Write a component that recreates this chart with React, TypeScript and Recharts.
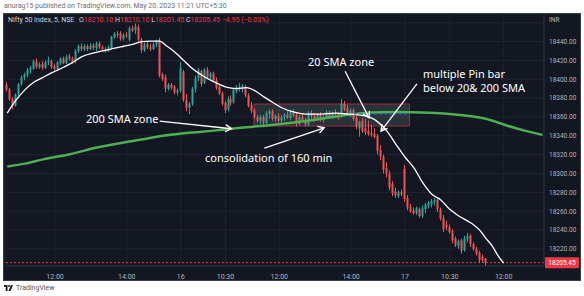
import React from 'react';
import {
  ComposedChart,
  Bar,
  Line,
  XAxis,
  YAxis,
  CartesianGrid,
  ReferenceLine,
  ReferenceArea,
} from 'recharts';

// 5 min candles, Nifty 50 (index 0 = day 1 ~10:40, 160 = day 3 ~11:30)
const opens = [
  18394, 18389, 18379, 18372, 18384, 18395, 18402, 18404, 18410, 18411,
  18419, 18413, 18416, 18412, 18418, 18419, 18414, 18411, 18417, 18422,
  18417, 18424, 18422, 18419, 18430, 18435, 18432, 18435, 18432, 18436,
  18433, 18438, 18434, 18432, 18430, 18433, 18445, 18448, 18449, 18443,
  18447, 18442, 18454, 18452, 18455, 18442, 18431, 18437, 18434, 18432,
  18437, 18441, 18405, 18402, 18390, 18394, 18392, 18386, 18388, 18408,
  18378, 18370, 18374, 18390, 18401, 18409, 18396, 18410, 18402, 18406,
  18399, 18392, 18385, 18375, 18368, 18379, 18376, 18388, 18392, 18390,
  18392, 18383, 18373, 18367, 18360, 18356, 18360, 18354, 18363, 18366,
  18358, 18361, 18356, 18360, 18362, 18359, 18365, 18362, 18353, 18360,
  18357, 18352, 18364, 18361, 18357, 18362, 18357, 18360, 18365, 18360,
  18364, 18363, 18360, 18374, 18369, 18362, 18367, 18359, 18348, 18356,
  18348, 18345, 18343, 18342, 18340, 18325, 18318, 18306, 18300, 18289,
  18281, 18276, 18280, 18305, 18274, 18265, 18261, 18258, 18262, 18255,
  18262, 18266, 18267, 18270, 18272, 18262, 18253, 18246, 18243, 18239,
  18231, 18223, 18229, 18219, 18230, 18234, 18225, 18220, 18216, 18212,
  18210.1,
];
const highs = [
  18397, 18391, 18381, 18385, 18396, 18404, 18407, 18412, 18414, 18421,
  18422, 18418, 18419, 18420, 18424, 18421, 18416, 18419, 18423, 18424,
  18426, 18427, 18424, 18432, 18437, 18438, 18437, 18437, 18438, 18438,
  18440, 18440, 18436, 18434, 18436, 18446, 18450, 18451, 18451, 18449,
  18450, 18456, 18457, 18459, 18458, 18444, 18439, 18440, 18438, 18439,
  18442, 18444, 18407, 18405, 18396, 18396, 18394, 18390, 18418, 18410,
  18384, 18376, 18392, 18404, 18412, 18410, 18412, 18413, 18408, 18408,
  18402, 18394, 18387, 18377, 18382, 18383, 18391, 18394, 18396, 18395,
  18394, 18385, 18376, 18369, 18362, 18362, 18362, 18366, 18368, 18368,
  18363, 18364, 18362, 18364, 18366, 18367, 18368, 18364, 18362, 18363,
  18359, 18366, 18367, 18364, 18364, 18365, 18362, 18367, 18367, 18366,
  18368, 18365, 18379, 18377, 18373, 18369, 18369, 18362, 18356, 18359,
  18358, 18356, 18352, 18348, 18342, 18330, 18320, 18312, 18303, 18292,
  18285, 18282, 18283, 18309, 18277, 18268, 18264, 18265, 18264, 18266,
  18269, 18271, 18273, 18274, 18274, 18264, 18256, 18250, 18246, 18241,
  18233, 18230, 18231, 18234, 18237, 18236, 18227, 18222, 18218, 18214,
  18210.1,
];
const lows = [
  18387, 18377, 18368, 18371, 18382, 18393, 18399, 18402, 18406, 18410,
  18411, 18411, 18410, 18411, 18415, 18411, 18409, 18410, 18415, 18416,
  18416, 18420, 18416, 18417, 18428, 18430, 18430, 18430, 18431, 18431,
  18430, 18432, 18430, 18428, 18429, 18432, 18443, 18444, 18441, 18441,
  18444, 18440, 18450, 18448, 18440, 18428, 18429, 18432, 18430, 18431,
  18434, 18402, 18398, 18386, 18388, 18389, 18384, 18383, 18386, 18376,
  18366, 18363, 18372, 18386, 18398, 18392, 18395, 18400, 18400, 18397,
  18389, 18383, 18372, 18364, 18366, 18372, 18374, 18385, 18387, 18386,
  18381, 18370, 18364, 18358, 18354, 18353, 18349, 18352, 18358, 18356,
  18355, 18354, 18354, 18356, 18358, 18357, 18360, 18350, 18351, 18355,
  18350, 18350, 18358, 18355, 18356, 18355, 18354, 18358, 18358, 18358,
  18361, 18357, 18359, 18366, 18362, 18360, 18356, 18347, 18339, 18343,
  18341, 18340, 18339, 18337, 18320, 18314, 18300, 18296, 18282, 18276,
  18274, 18274, 18276, 18270, 18261, 18258, 18256, 18256, 18253, 18253,
  18258, 18263, 18264, 18266, 18259, 18250, 18238, 18240, 18236, 18226,
  18222, 18220, 18215, 18217, 18227, 18222, 18218, 18213, 18205, 18205,
  18201.45,
];
const closes = [
  18389, 18379, 18372, 18384, 18395, 18402, 18405, 18410, 18412, 18419,
  18413, 18416, 18412, 18418, 18420, 18413, 18411, 18418, 18422, 18417,
  18424, 18422, 18418, 18430, 18435, 18432, 18435, 18432, 18436, 18433,
  18438, 18434, 18432, 18430, 18434, 18445, 18448, 18447, 18443, 18447,
  18446, 18454, 18452, 18456, 18442, 18431, 18437, 18434, 18432, 18437,
  18440, 18404, 18400, 18390, 18394, 18391, 18386, 18388, 18412, 18378,
  18370, 18374, 18390, 18401, 18410, 18395, 18410, 18402, 18406, 18399,
  18391, 18385, 18374, 18367, 18379, 18375, 18389, 18392, 18390, 18393,
  18383, 18372, 18366, 18360, 18356, 18360, 18354, 18364, 18366, 18358,
  18361, 18356, 18360, 18362, 18359, 18365, 18362, 18353, 18360, 18357,
  18352, 18364, 18361, 18357, 18362, 18357, 18360, 18365, 18360, 18364,
  18363, 18359, 18374, 18368, 18364, 18367, 18358, 18350, 18355, 18345,
  18344, 18342, 18341, 18339, 18324, 18318, 18304, 18300, 18285, 18279,
  18277, 18280, 18278, 18273, 18264, 18260, 18258, 18263, 18255, 18263,
  18267, 18269, 18271, 18272, 18262, 18252, 18241, 18243, 18238, 18229,
  18224, 18228, 18218, 18231, 18234, 18225, 18220, 18215, 18208, 18208,
  18205.45,
];

// moving averages at a few bar positions
const sma20Idx = [0, 3, 6, 9, 12, 15, 19, 22, 25, 29, 32, 36, 39, 42, 45, 48, 51, 53, 56, 59, 62, 65, 68, 71, 74, 77, 80, 83, 86, 89, 92, 96, 100, 105, 110, 114, 118, 121, 124, 127, 130, 133, 136, 139, 142, 145, 148, 151, 154, 156, 158, 160, 162, 164, 166];
const sma20Val = [18364, 18378, 18389, 18397, 18402, 18407, 18413, 18418, 18424, 18428, 18430, 18433, 18435, 18437, 18440, 18440.5, 18440.5, 18436, 18429, 18420, 18411, 18404.5, 18399, 18394.5, 18391, 18390, 18391, 18387.5, 18381, 18375, 18369.5, 18365, 18363, 18363, 18364, 18363, 18362, 18360, 18354.5, 18345, 18331, 18317.5, 18306, 18290, 18278, 18272, 18262, 18255, 18249.5, 18245.5, 18240, 18231.5, 18224, 18213.5, 18205];
const sma200Idx = [0, 6, 12, 21, 30, 39, 45, 51, 60, 69, 78, 87, 96, 105, 111, 116, 122, 130, 138, 146, 153, 160, 167, 173, 179];
const sma200Val = [18307.5, 18310.5, 18315, 18320.5, 18327.5, 18333, 18336, 18339.5, 18343, 18345.5, 18348.5, 18351, 18354, 18358, 18361, 18363, 18364.7, 18365.2, 18364.7, 18363.6, 18361.5, 18358, 18351, 18345.5, 18341];

const slotCount = 180;
const tickIdx = [16, 40, 58, 73, 91, 115, 133, 148, 166];
const tickLabels = ['12:00', '14:00', '16', '10:30', '12:00', '14:00', '17', '10:30', '12:00'];
const priceTicks = [18220, 18240, 18260, 18280, 18300, 18320, 18340, 18360, 18380, 18400, 18420, 18440, 18460];
const lastPrice = 18205.45;

// annotation arrows, in bar index / price
const arrows = [
  { x1: 51, y1: 18355.5, x2: 75, y2: 18347.5 },
  { x1: 86, y1: 18327, x2: 106, y2: 18348.5 },
  { x1: 113, y1: 18408.5, x2: 121, y2: 18359 },
  { x1: 137, y1: 18395, x2: 125, y2: 18345 },
];

const UP = '#26a69a';
const DOWN = '#ef5350';

const rows = Array.from({ length: slotCount }, (_, i) => {
  const row: any = { idx: i, sma20: null, sma200: null };
  if (i < opens.length) {
    row.open = opens[i];
    row.high = highs[i];
    row.low = lows[i];
    row.close = closes[i];
    row.range = [lows[i], highs[i]];
  }
  return row;
});
sma20Idx.forEach((ix, k) => { rows[ix].sma20 = sma20Val[k]; });
sma200Idx.forEach((ix, k) => { rows[ix].sma200 = sma200Val[k]; });

const Candle = (props: any) => {
  const { x, y, width, height, payload } = props;
  if (!payload || payload.open == null) return null;
  const { open, close, high, low } = payload;
  const top = Math.min(y, y + height);
  const h = Math.abs(height);
  const span = high - low || 1;
  const py = (v: number) => top + ((high - v) / span) * h;
  const cx = Math.floor(x + width / 2) + 0.5;
  const color = close >= open ? UP : DOWN;
  const bTop = py(Math.max(open, close));
  const bBot = py(Math.min(open, close));
  return (
    <g>
      <line x1={cx} x2={cx} y1={top} y2={top + h} stroke={color} strokeWidth={1} />
      <rect x={cx - 1} y={bTop} width={2} height={Math.max(1, bBot - bTop)} fill={color} />
    </g>
  );
};

const Arrow = (props: any) => {
  const { x1, y1, x2, y2 } = props;
  const ang = Math.atan2(y2 - y1, x2 - x1);
  const L = 7;
  const a = Math.PI / 6;
  const ax = x2 - L * Math.cos(ang - a);
  const ay = y2 - L * Math.sin(ang - a);
  const bx = x2 - L * Math.cos(ang + a);
  const by = y2 - L * Math.sin(ang + a);
  return (
    <g>
      <line x1={x1} y1={y1} x2={x2} y2={y2} stroke="#ffffff" strokeWidth={1.3} />
      <polyline points={`${ax},${ay} ${x2},${y2} ${bx},${by}`} fill="none" stroke="#ffffff" strokeWidth={1.3} />
    </g>
  );
};

const YTick = (props: any) => {
  const { x, y, payload } = props;
  if (payload.value === 18460) {
    return (
      <text x={x - 3} y={y - 1} fill="#b2b5be" fontSize={6.5}>INR</text>
    );
  }
  return (
    <text x={x - 3} y={y + 2.3} fill="#b2b5be" fontSize={6.5}>
      {payload.value.toFixed(2)}
    </text>
  );
};

const XTick = (props: any) => {
  const { x, y, payload } = props;
  const k = tickIdx.indexOf(payload.value);
  return (
    <text x={x} y={y + 5} textAnchor="middle" fill="#b2b5be" fontSize={7}>
      {k >= 0 ? tickLabels[k] : ''}
    </text>
  );
};

const PriceTag = (props: any) => {
  const { viewBox } = props;
  const x = viewBox.x + viewBox.width;
  const y = viewBox.y;
  return (
    <g>
      <rect x={x + 1} y={y - 5.5} width={34} height={11} fill="#f23645" rx={1} />
      <text x={x + 18} y={y + 2.3} textAnchor="middle" fill="#ffffff" fontSize={6.5}>
        {lastPrice.toFixed(2)}
      </text>
    </g>
  );
};

const note: React.CSSProperties = {
  position: 'absolute',
  color: '#ffffff',
  fontFamily: '"Noto Sans", sans-serif',
  fontSize: 11,
  lineHeight: '11px',
  whiteSpace: 'nowrap',
};

export default function App() {
  return (
    <div style={{ position: 'absolute', left: 0, top: 0, width: 584, height: 296, background: '#ffffff', overflow: 'hidden', fontFamily: 'Roboto, sans-serif' }}>
      <div style={{ position: 'absolute', left: 4, top: 2, fontSize: 7, color: '#6a6d78', whiteSpace: 'nowrap' }}>
        anurag15 published on TradingView.com, May 20, 2023 11:21 UTC+5:30
      </div>

      <div style={{ position: 'absolute', left: 4, top: 14, width: 576, height: 266, background: '#131722', boxShadow: '0 0 0 1px #3a3e4a' }}>
        <ComposedChart
          width={576}
          height={266}
          data={rows}
          margin={{ top: 0, right: 0, bottom: 0, left: 1.7 }}
        >
          <CartesianGrid stroke="#1f2330" strokeWidth={1} />
          <XAxis
            dataKey="idx"
            type="category"
            ticks={tickIdx}
            interval={0}
            height={14}
            tick={<XTick />}
            tickLine={false}
            axisLine={{ stroke: '#2a2e39' }}
          />
          <YAxis
            orientation="right"
            width={36}
            domain={[18201.9, 18469.2]}
            ticks={priceTicks}
            interval={0}
            allowDataOverflow
            tick={<YTick />}
            tickLine={false}
            axisLine={{ stroke: '#2a2e39' }}
          />
          <ReferenceArea
            x1={83}
            x2={134}
            y1={18350.4}
            y2={18373.7}
            fill="#7f9f8f"
            fillOpacity={0.2}
            stroke="#a02b40"
            strokeWidth={1}
          />
          <ReferenceLine
            y={lastPrice}
            stroke="#f23645"
            strokeDasharray="2 2"
            label={<PriceTag />}
          />
          <Bar dataKey="range" shape={<Candle />} isAnimationActive={false} barSize={2} />
          <Line type="monotone" dataKey="sma200" stroke="#4caf50" strokeWidth={2.5} dot={false} connectNulls isAnimationActive={false} />
          <Line type="monotone" dataKey="sma20" stroke="#ffffff" strokeWidth={1.3} dot={false} connectNulls isAnimationActive={false} />
          <ReferenceLine
            segment={[{ x: 116, y: 18363.1 }, { x: 134, y: 18363.1 }]}
            stroke="#2962ff"
            strokeDasharray="3 2"
          />
          {arrows.map((a, k) => (
            <ReferenceLine
              key={k}
              segment={[{ x: a.x1, y: a.y1 }, { x: a.x2, y: a.y2 }]}
              shape={(p: any) => <Arrow {...p} />}
            />
          ))}
        </ComposedChart>
      </div>

      <div style={{ position: 'absolute', left: 8, top: 16, fontSize: 7, lineHeight: '9px', color: '#d1d4dc', whiteSpace: 'nowrap' }}>
        Nifty 50 Index, 5, NSE{'  '}
        <span style={{ marginLeft: 3 }}>O</span><span style={{ color: '#f23645' }}>18210.10</span>{' '}
        H<span style={{ color: '#f23645' }}>18210.10</span>{' '}
        L<span style={{ color: '#f23645' }}>18201.45</span>{' '}
        C<span style={{ color: '#f23645' }}>18205.45</span>{' '}
        <span style={{ color: '#f23645' }}>−4.95 (−0.03%)</span>
      </div>

      <div style={{ ...note, left: 86, top: 113 }}>200 SMA zone</div>
      <div style={{ ...note, left: 205, top: 152 }}>consolidation of 160 min</div>
      <div style={{ ...note, left: 308, top: 56 }}>20 SMA zone</div>
      <div style={{ ...note, left: 423, top: 68 }}>multiple Pin bar</div>
      <div style={{ ...note, left: 423, top: 81.5 }}>below 20&amp; 200 SMA</div>

      <div style={{ position: 'absolute', left: 4, top: 284, display: 'flex', alignItems: 'center', gap: 3, fontSize: 7, color: '#50535e' }}>
        <svg width={9} height={6} viewBox="0 0 36 24">
          <path d="M0 0h14v24H7V7H0z" fill="#131722" />
          <circle cx={20} cy={4} r={4} fill="#131722" />
          <path d="M28 0h8L26 24h-8z" fill="#131722" />
        </svg>
        <span>TradingView</span>
      </div>
    </div>
  );
}
